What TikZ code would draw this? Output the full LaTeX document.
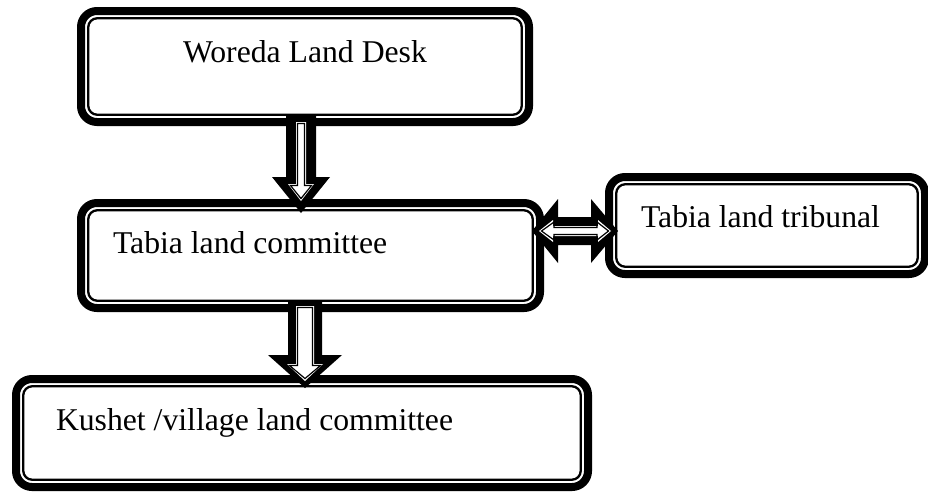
\documentclass[tikz,border=0pt]{standalone}
\usepackage{fontspec}
\setmainfont{Liberation Serif}
\newcommand\blkdown[7]{\path[#1] ({#2-#6},#3) -- ({#2+#6},#3) -- ({#2+#6},#4) -- ({#2+#7},#4) -- (#2,#5) -- ({#2-#7},#4) -- ({#2-#6},#4) -- cycle;}
\newcommand\blkdouble[8]{\path[#1] (#3,#2) -- (#4,{#2-#8}) -- (#4,{#2-#7}) -- (#5,{#2-#7}) -- (#5,{#2-#8}) -- (#6,#2) -- (#5,{#2+#8}) -- (#5,{#2+#7}) -- (#4,{#2+#7}) -- (#4,{#2+#8}) -- cycle;}
\tikzset{
  obox/.style={draw=black, line width=8, rounded corners=16, inner sep=0, outer sep=0, fill=white},
  ibox/.style={draw=black, line width=2.3, rounded corners=9},
  txt/.style={anchor=base west, inner sep=0, outer sep=0, font=\fontsize{31.7}{38}\selectfont},
  arrout/.style={fill=black},
  arrwhite/.style={fill=white},
  arrline/.style={draw=black, line width=1.2, line join=miter},
}
\begin{document}
\begin{tikzpicture}[x=1pt, y=-1pt]
\fill[white] (0,0) rectangle (928,491);
\useasboundingbox (0,0) rectangle (928,491);
% boxes
\node[obox, minimum width=448, minimum height=111] (b1) at (305,66.5) {};
\draw[ibox] ([shift={(7.25,7.25)}]b1.north west) rectangle ([shift={(-7.25,-7.25)}]b1.south east);
\node[obox, minimum width=459, minimum height=105] (b2) at (310.5,255.5) {};
\draw[ibox] ([shift={(7.25,7.25)}]b2.north west) rectangle ([shift={(-7.25,-7.25)}]b2.south east);
\node[obox, minimum width=316, minimum height=97] (b3) at (767,225.5) {};
\draw[ibox] ([shift={(7.25,7.25)}]b3.north west) rectangle ([shift={(-7.25,-7.25)}]b3.south east);
\node[obox, minimum width=572, minimum height=108] (b4) at (302,433) {};
\draw[ibox] ([shift={(7.25,7.25)}]b4.north west) rectangle ([shift={(-7.25,-7.25)}]b4.south east);
% texts
\node[txt] (t1) at (183,62) {Woreda Land Desk};
\node[txt] (t2) at (113,253) {Tabia land committee};
\node[txt] (t3) at (641,227) {Tabia land tribunal};
\node[txt] (t4) at (56,430) {Kushet /village land committee};
% arrow b1 -> b2
\blkdown{arrout}{301}{116}{177}{213}{15}{29}
\blkdown{arrwhite}{301}{122}{184}{201}{5}{13}
\blkdown{arrline}{301}{123.5}{185.5}{198.5}{3.5}{10.5}
% arrow b2 -> b4
\blkdown{arrout}{305}{300}{355}{388}{17}{37}
\blkdown{arrwhite}{305}{306}{364}{381}{9}{18}
\blkdown{arrline}{305}{307.5}{365.5}{378.5}{7.5}{15.5}
% double arrow b2 <-> b3
\blkdouble{arrout}{231}{532}{558}{591}{618}{14}{32}
\blkdouble{arrwhite}{231}{539}{553}{598}{611}{5}{11}
\blkdouble{arrline}{231}{541.5}{554}{597}{608.5}{3.5}{9}
\end{tikzpicture}
\end{document}
